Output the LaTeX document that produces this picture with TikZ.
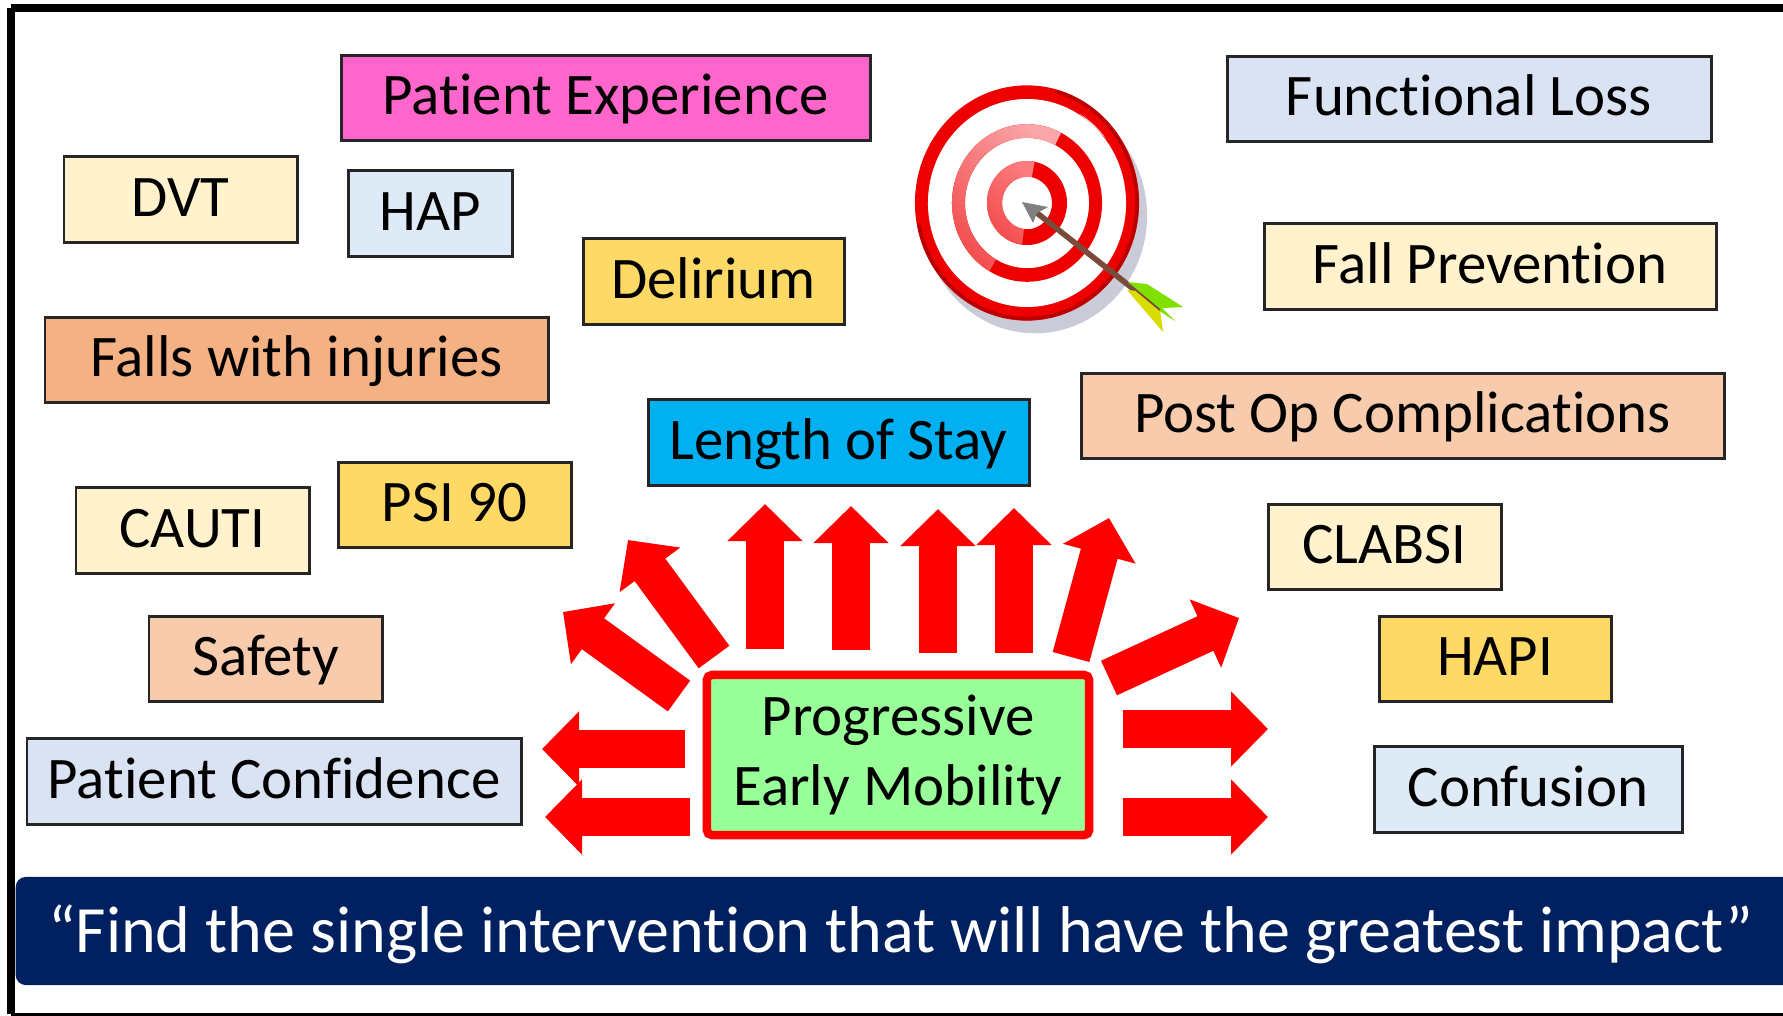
\documentclass[tikz,border=0pt]{standalone}
\usepackage{fontspec}
\setmainfont[Ligatures=NoCommon]{Carlito}
\usetikzlibrary{arrows.meta}
\definecolor{tagPink}{HTML}{FF66CC}
\definecolor{tagCream}{HTML}{FFF2CC}
\definecolor{tagIce}{HTML}{DEEBF7}
\definecolor{tagLilac}{HTML}{DAE3F3}
\definecolor{tagGold}{HTML}{FFD966}
\definecolor{tagOrange}{HTML}{F4B183}
\definecolor{tagPeach}{HTML}{F8CBAD}
\definecolor{tagSky}{HTML}{00B0F0}
\definecolor{tagGreen}{HTML}{99FF99}
\definecolor{bannerBlue}{HTML}{002060}
\definecolor{ringRed}{HTML}{EE0000}
\definecolor{ringDark}{HTML}{B80000}
\definecolor{ringPink}{HTML}{FAD0D4}
\definecolor{ringShadow}{HTML}{C9CBD8}
\definecolor{shaftBrown}{HTML}{7A4A3A}
\definecolor{fletchGreen}{HTML}{80E000}
\definecolor{fletchYellow}{HTML}{D8DC00}
\begin{document}
\begin{tikzpicture}[x=.01cm,y=-.01cm,
    tagbox/.style={draw=black!85, line width=.85pt, minimum height=.85cm, inner sep=0pt,
      text height=.50cm, text depth=.17cm, font=\fontsize{16.75}{19}\selectfont},
    bigarrow/.style={draw=red, line width=.38cm, -{Triangle[width=.73cm,length=.37cm,fill=red]}},
    ring/.style={fill=ringRed, even odd rule}]
        \useasboundingbox (0,0) rectangle (1783,1015);
        \clip (0,0) rectangle (1783,1015);
        \fill[white] (0,0) rectangle (1783,1015);
        \draw[line width=.08cm] (11,8) -- (1800,8);
        \draw[line width=.08cm] (11,8) -- (11,1014);
        \draw[line width=.03cm] (11,1014) -- (1800,1014);

        \foreach \nm/\cx/\cy/\bw/\col/\txt in {
          patexp/605.5/98/529/tagPink/Patient Experience,
          funcloss/1469/99/484/tagLilac/Functional Loss,
          dvt/180.5/199.5/233/tagCream/DVT,
          hap/430/213.5/164/tagIce/HAP,
          delirium/713.5/281.5/261/tagGold/Delirium,
          fallprev/1490/266.5/452/tagCream/Fall Prevention,
          falls/296.5/360/503/tagOrange/Falls with injuries,
          postop/1402.5/416/643/tagPeach/Post Op Complications,
          stay/838.5/442.5/381/tagSky/Length of Stay,
          cauti/192.5/530.5/233/tagCream/CAUTI,
          psi/454.5/505/233/tagGold/PSI 90,
          clabsi/1384.5/547/233/tagCream/CLABSI,
          safety/265.5/659/233/tagPeach/Safety,
          hapi/1495/659/232/tagGold/HAPI,
          patconf/274/781.5/494/tagLilac/Patient Confidence,
          confusion/1528/789.5/308/tagIce/Confusion}
          \node[tagbox, fill=\col, minimum width=0.01cm*\bw] (\nm) at (\cx,\cy) {\txt};

        \node[draw=red, fill=tagGreen, line width=.085cm, rounded corners=.05cm, align=center,
              minimum width=3.82cm, minimum height=1.6cm, inner sep=0pt,
              font=\fontsize{16.75}{20}\selectfont] (mobility) at (898,755)
              {Progressive\\Early Mobility};

        \foreach \nm/\sx/\sy/\ex/\ey in {
          la/685/749/542/749, lb/690/817/545/817,
          ra/1123/729/1268/729, rb/1123/817/1268/817,
          ua/765/649/765/504, ub/851/650/851/506, uc/938/653/938/509, ud/1014/653/1014/508,
          ta/1071/657/1109/518, tb/1109/678/1239/618,
          tc/714/657/628/540, td/679/696/563/612} {
          \coordinate (\nm s) at (\sx,\sy);
          \coordinate (\nm e) at (\ex,\ey);
          \draw[bigarrow] (\nm s) -- (\nm e);
        }

        \node[fill=bannerBlue, rounded corners=.1cm, minimum width=18cm, minimum height=1.08cm,
              anchor=west, inner sep=0pt] (banner) at (15,931) {};
        \node[text=white, font=\fontsize{18.8}{23}\selectfont, anchor=center, inner sep=0pt]
              (quote) at (901,934) {“Find the single intervention that will have the greatest impact”};

        \begin{scope}[shift={(1027,203)},x=1cm,y=1cm]
          \begin{scope}[y=1.05cm]
            \fill[ringShadow] (.08,-.12) circle (1.12);
            \fill[ringRed] (0,0) circle (1.12);
            \fill[white] (0,0) circle (.99);
            \draw[ringDark, line width=.035cm] (75:1.10) arc[start angle=75,end angle=-170,radius=1.10];
            \fill[ring] (0,0) circle (.75) (0,0) circle (.62);
            \fill[ring] (0,0) circle (.40) (0,0) circle (.25);
            \shade[left color=ringPink!80!red, right color=ringRed!70!white, shading angle=-45]
              (63:.75) arc[start angle=63,end angle=240,radius=.75]
              -- (240:.62) arc[start angle=240,end angle=63,radius=.62] -- cycle;
            \shade[left color=ringPink!60!red, right color=ringRed!70!white, shading angle=-45]
              (79:.40) arc[start angle=79,end angle=263,radius=.40]
              -- (263:.25) arc[start angle=263,end angle=79,radius=.25] -- cycle;
            \fill[ringPink] (45:.99) -- (58:1.0) arc[start angle=58,end angle=38,radius=1.0] -- cycle;
          \end{scope}
          \draw[shaftBrown, line width=1.6pt] (.10,-.10) -- (1.33,-1.07);
          \fill[gray] (-.05,.01) -- (.21,-.04) -- (.10,-.10) -- (.06,-.20) -- cycle;
          \fill[fletchGreen] (1.01,-.79) -- (1.20,-.81) -- (1.56,-1.04) -- (1.35,-1.05)
            -- (1.48,-1.18) -- (1.20,-1.0) -- cycle;
          \fill[fletchYellow] (1.00,-.87) -- (1.36,-1.29) -- (1.33,-1.07) -- (1.12,-.88) -- cycle;
          \draw[shaftBrown, line width=.5pt] (1.03,-.82) -- (1.33,-1.07);
        \end{scope}
      \end{tikzpicture}
\end{document}
